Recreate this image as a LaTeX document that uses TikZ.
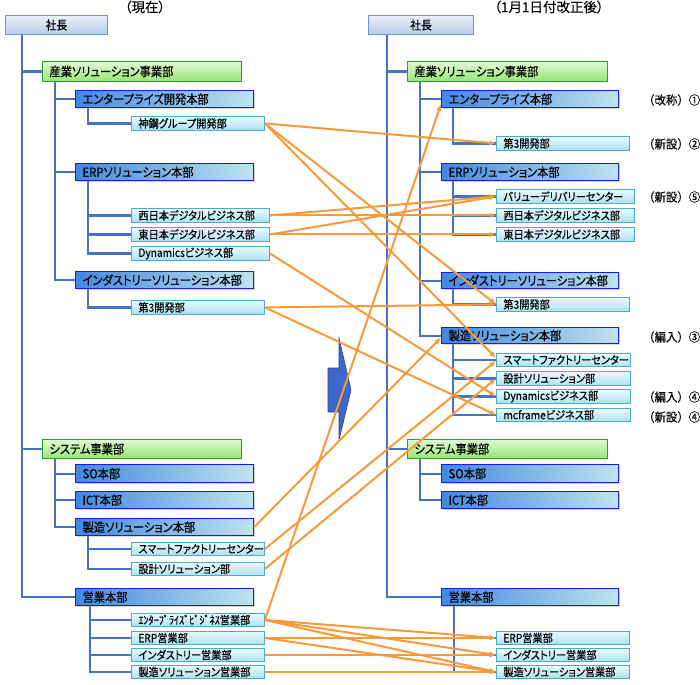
\documentclass[tikz,border=0pt]{standalone}
\usepackage{fontspec}
\setmainfont{Noto Sans CJK JP}
\newfontfamily\narrowfont{Noto Sans CJK JP}[RawFeature=+palt, FakeStretch=0.9, FakeBold=0.3]
\newfontfamily\hqfont{Noto Sans CJK JP}[RawFeature=+palt, FakeStretch=0.9, FakeBold=0.3]
\newfontfamily\titlefont{Noto Sans CJK JP}[RawFeature=+palt, FakeBold=0.2]
\newfontfamily\notefont{Noto Sans CJK JP}[FakeStretch=0.95, FakeBold=0.2]
\usetikzlibrary{arrows.meta,shadows,backgrounds}
\definecolor{treeblue}{HTML}{4472C4}
\definecolor{orng}{HTML}{F99A38}
\definecolor{hqborder}{HTML}{1A1AF0}
\definecolor{grborder}{HTML}{27A127}
\definecolor{cyborder}{HTML}{4BACC6}
\definecolor{presborder}{HTML}{6F93CC}
\definecolor{hqleft}{RGB}{66,135,225}
\definecolor{hqmid}{RGB}{78,152,188}
\definecolor{hqright}{RGB}{190,228,238}
\definecolor{grtop}{RGB}{225,250,212}
\definecolor{grbot}{RGB}{150,228,118}
\definecolor{cytop}{RGB}{236,250,253}
\definecolor{cybot}{RGB}{170,225,240}
\definecolor{prtop}{RGB}{232,240,250}
\definecolor{prbot}{RGB}{184,205,236}
\tikzset{
  tree/.style={draw=treeblue, line width=2.2pt},
  link/.style={draw=orng, line width=2pt, -{Latex[length=6.5pt,width=5.5pt]}},
  presbox/.style={draw=presborder, line width=1pt, top color=prtop, bottom color=prbot, font=\hqfont\fontsize{12}{13}\selectfont, minimum width=102pt, minimum height=19pt, anchor=north west, inner sep=0pt, align=center},
  divbox/.style={draw=grborder, line width=1pt, top color=grtop, bottom color=grbot, font=\hqfont\fontsize{12.5}{13}\selectfont},
  hqbox/.style={draw=hqborder, line width=1.2pt, left color=hqleft, middle color=hqmid, right color=hqright, font=\hqfont\fontsize{12.5}{13}\selectfont, drop shadow={shadow xshift=1pt, shadow yshift=-1pt, fill=black!40, opacity=.4}},
  deptbox/.style={draw=cyborder, line width=0.9pt, top color=cytop, bottom color=cybot, font=\narrowfont\fontsize{11.3}{12}\selectfont, drop shadow={shadow xshift=1pt, shadow yshift=-1pt, fill=black!40, opacity=.4}},
  ttl/.style={font=\titlefont\fontsize{13.5}{14}\selectfont, inner sep=0pt},
  note/.style={font=\notefont\fontsize{12}{13}\selectfont, anchor=west, inner sep=0pt},
  bigarrow/.style={fill=treeblue!90!blue, draw=treeblue!60!black, line width=0.6pt}
}
\newcommand\orgbox[7]{%
  \pgfmathsetmacro\mytw{#5-14}%
  \node[#1, anchor=north west, minimum height=#6pt, text width=\mytw pt, inner xsep=7pt, inner ysep=0pt, align=left] (#2) at (#3,#4) {#7};}
\begin{document}
\begin{tikzpicture}[x=1pt,y=-1pt]
\useasboundingbox (0,0) rectangle (700,684);

% titles
\node[ttl] (tnow) at (145,7) {（現在）};
\node[ttl] (tnew) at (549,7) {（1月1日付改正後）};

% ---------- left (current) ----------
\node[presbox] (shachoL) at (5,15) {社長};
\orgbox{divbox}{sangyoL}{42}{61}{199}{20}{産業ソリューション事業部}
\orgbox{hqbox}{entL}{75}{90}{178}{17}{エンタープライズ開発本部}
\orgbox{deptbox}{shinkoL}{131}{116}{133}{14}{神鋼グループ開発部}
\orgbox{hqbox}{erpL}{75}{163}{178}{17}{ERPソリューション本部}
\orgbox{deptbox}{nishiL}{131}{208}{138}{14}{西日本デジタルビジネス部}
\orgbox{deptbox}{higashiL}{131}{227}{138}{14}{東日本デジタルビジネス部}
\orgbox{deptbox}{dynL}{131}{246}{138}{14}{Dynamicsビジネス部}
\orgbox{hqbox}{indL}{75}{271}{178}{17}{インダストリーソリューション本部}
\orgbox{deptbox}{dai3L}{131}{300}{133}{14}{第3開発部}
\orgbox{divbox}{sysL}{42}{439}{199}{19}{システム事業部}
\orgbox{hqbox}{soL}{75}{464}{178}{18}{SO本部}
\orgbox{hqbox}{ictL}{75}{491}{178}{17}{ICT本部}
\orgbox{hqbox}{mfgL}{75}{518}{178}{17}{製造ソリューション本部}
\orgbox{deptbox}{smartL}{131}{542}{133}{13}{スマートファクトリーセンター}
\orgbox{deptbox}{sekkeiL}{131}{562}{133}{13}{設計ソリューション部}
\orgbox{hqbox}{eigyoL}{75}{588}{178}{17}{営業本部}
\orgbox{deptbox}{entsL}{131}{613}{133}{13}{ｴﾝﾀｰﾌﾟﾗｲｽﾞﾋﾞｼﾞﾈｽ営業部}
\orgbox{deptbox}{erpsL}{131}{631}{133}{13}{ERP営業部}
\orgbox{deptbox}{indsL}{131}{648}{133}{13}{インダストリー営業部}
\orgbox{deptbox}{mfgsL}{131}{665}{133}{13}{製造ソリューション営業部}

% ---------- right (new) ----------
\node[presbox, minimum width=105pt] (shachoR) at (368,15) {社長};
\orgbox{divbox}{sangyoR}{407}{61}{200}{20}{産業ソリューション事業部}
\orgbox{hqbox}{entR}{441}{90}{177}{17}{エンタープライズ本部}
\orgbox{deptbox}{dai3aR}{496}{136}{133}{14}{第3開発部}
\orgbox{hqbox}{erpR}{441}{163}{177}{17}{ERPソリューション本部}
\orgbox{deptbox}{valueR}{496}{189}{138}{14}{バリューデリバリーセンター}
\orgbox{deptbox}{nishiR}{496}{208}{138}{14}{西日本デジタルビジネス部}
\orgbox{deptbox}{higashiR}{496}{227}{138}{14}{東日本デジタルビジネス部}
\orgbox{hqbox}{indR}{441}{272}{177}{16}{インダストリーソリューション本部}
\orgbox{deptbox}{dai3bR}{496}{297}{133}{14}{第3開発部}
\orgbox{hqbox}{mfgR}{441}{327}{177}{16}{製造ソリューション本部}
\orgbox{deptbox}{smartR}{496}{353}{134}{13}{スマートファクトリーセンター}
\orgbox{deptbox}{sekkeiR}{496}{371}{134}{14}{設計ソリューション部}
\orgbox{deptbox}{dynR}{496}{389}{134}{14}{Dynamicsビジネス部}
\orgbox{deptbox}{mcR}{496}{408}{134}{13}{mcframeビジネス部}
\orgbox{divbox}{sysR}{407}{439}{200}{19}{システム事業部}
\orgbox{hqbox}{soR}{441}{464}{177}{18}{SO本部}
\orgbox{hqbox}{ictR}{441}{491}{177}{17}{ICT本部}
\orgbox{hqbox}{eigyoR}{441}{588}{177}{17}{営業本部}
\orgbox{deptbox}{erpsR}{496}{631}{133}{13}{ERP営業部}
\orgbox{deptbox}{indsR}{496}{648}{133}{13}{インダストリー営業部}
\orgbox{deptbox}{mfgsR}{496}{665}{133}{13}{製造ソリューション営業部}

% notes
\node[note] (n1) at (643,100) {（改称）①};
\node[note] (n2) at (643,144) {（新設）②};
\node[note] (n3) at (643,197) {（新設）⑤};
\node[note] (n4) at (643,337) {（編入）③};
\node[note] (n5) at (643,397) {（編入）④};
\node[note] (n6) at (643,417) {（新設）④};

% ---------- tree lines (behind boxes) ----------
\begin{scope}[on background layer]
\fill[white] (0,0) rectangle (700,684);
% left trunk
\coordinate (tL) at ([xshift=17pt]shachoL.south west);
\draw[tree] (tL) |- (eigyoL.west);
\draw[tree] (tL |- sangyoL.west) -- (sangyoL.west);
\draw[tree] (tL |- sysL.west) -- (sysL.west);
% left second level
\coordinate (aL) at ([xshift=13pt]sangyoL.south west);
\draw[tree] (aL) |- (indL.west);
\draw[tree] (aL |- entL.west) -- (entL.west);
\draw[tree] (aL |- erpL.west) -- (erpL.west);
\coordinate (bL) at ([xshift=13pt]sysL.south west);
\draw[tree] (bL) |- (mfgL.west);
\draw[tree] (bL |- soL.west) -- (soL.west);
\draw[tree] (bL |- ictL.west) -- (ictL.west);
% left third level
\draw[tree] ([xshift=13pt]entL.south west) |- (shinkoL.west);
\coordinate (cL) at ([xshift=13pt]erpL.south west);
\draw[tree] (cL) |- (dynL.west);
\draw[tree] (cL |- nishiL.west) -- (nishiL.west);
\draw[tree] (cL |- higashiL.west) -- (higashiL.west);
\draw[tree] ([xshift=13pt]indL.south west) |- (dai3L.west);
\coordinate (dL) at ([xshift=13pt]mfgL.south west);
\draw[tree] (dL) |- (sekkeiL.west);
\draw[tree] (dL |- smartL.west) -- (smartL.west);
\coordinate (eL) at ([xshift=15pt]eigyoL.south west);
\draw[tree] (eL) |- (mfgsL.west);
\draw[tree] (eL |- entsL.west) -- (entsL.west);
\draw[tree] (eL |- erpsL.west) -- (erpsL.west);
\draw[tree] (eL |- indsL.west) -- (indsL.west);
% right trunk
\coordinate (tR) at ([xshift=19pt]shachoR.south west);
\draw[tree] (tR) |- (eigyoR.west);
\draw[tree] (tR |- sangyoR.west) -- (sangyoR.west);
\draw[tree] (tR |- sysR.west) -- (sysR.west);
% right second level
\coordinate (aR) at ([xshift=13pt]sangyoR.south west);
\draw[tree] (aR) |- (mfgR.west);
\draw[tree] (aR |- entR.west) -- (entR.west);
\draw[tree] (aR |- erpR.west) -- (erpR.west);
\draw[tree] (aR |- indR.west) -- (indR.west);
\coordinate (bR) at ([xshift=13pt]sysR.south west);
\draw[tree] (bR) |- (ictR.west);
\draw[tree] (bR |- soR.west) -- (soR.west);
% right third level
\draw[tree] ([xshift=12pt]entR.south west) |- (dai3aR.west);
\coordinate (cR) at ([xshift=12pt]erpR.south west);
\draw[tree] (cR) |- (higashiR.west);
\draw[tree] (cR |- valueR.west) -- (valueR.west);
\draw[tree] (cR |- nishiR.west) -- (nishiR.west);
\draw[tree] ([xshift=12pt]indR.south west) |- (dai3bR.west);
\coordinate (dR) at ([xshift=12pt]mfgR.south west);
\draw[tree] (dR) |- (mcR.west);
\draw[tree] (dR |- smartR.west) -- (smartR.west);
\draw[tree] (dR |- sekkeiR.west) -- (sekkeiR.west);
\draw[tree] (dR |- dynR.west) -- (dynR.west);
\coordinate (eR) at ([xshift=13pt]eigyoR.south west);
\draw[tree] (eR) |- (mfgsR.west);
\draw[tree] (eR |- erpsR.west) -- (erpsR.west);
\draw[tree] (eR |- indsR.west) -- (indsR.west);
\end{scope}

% big arrow
\draw[bigarrow] (328,368) -- (339,368) -- (339,338) -- (351,390) -- (339,440) -- (339,412) -- (328,412) -- cycle;

% ---------- orange links ----------
\draw[link] (shinkoL.east) -- (dai3aR.west);
\draw[link] (shinkoL.east) -- (dai3bR.west);
\draw[link] (shinkoL.east) -- ([yshift=2pt]smartR.west);
\draw[link] (nishiL.east) -- (valueR.west);
\draw[link] (nishiL.east) -- (nishiR.west);
\draw[link] (higashiL.east) -- (valueR.west);
\draw[link] (higashiL.east) -- (higashiR.west);
\draw[link] (dynL.east) -- (dynR.west);
\draw[link] (dai3L.east) -- (dai3bR.west);
\draw[link] (dai3L.east) -- (mcR.west);
\draw[link] (mfgL.east) -- ([yshift=-2pt]mfgR.west);
\draw[link] (smartL.east) -- ([yshift=-1pt]smartR.west);
\draw[link] (sekkeiL.east) -- (sekkeiR.west);
\draw[link] (entsL.east) -- ([yshift=4pt]entR.south west);
\draw[link] (entsL.east) -- (erpsR.west);
\draw[link] (entsL.east) -- (indsR.west);
\draw[link] (entsL.east) -- (mfgsR.west);
\draw[link] (erpsL.east) -- (erpsR.west);
\draw[link] (erpsL.east) -- (mfgsR.west);
\draw[link] (indsL.east) -- (indsR.west);
\draw[link] (mfgsL.east) -- (mfgsR.west);
\end{tikzpicture}
\end{document}
